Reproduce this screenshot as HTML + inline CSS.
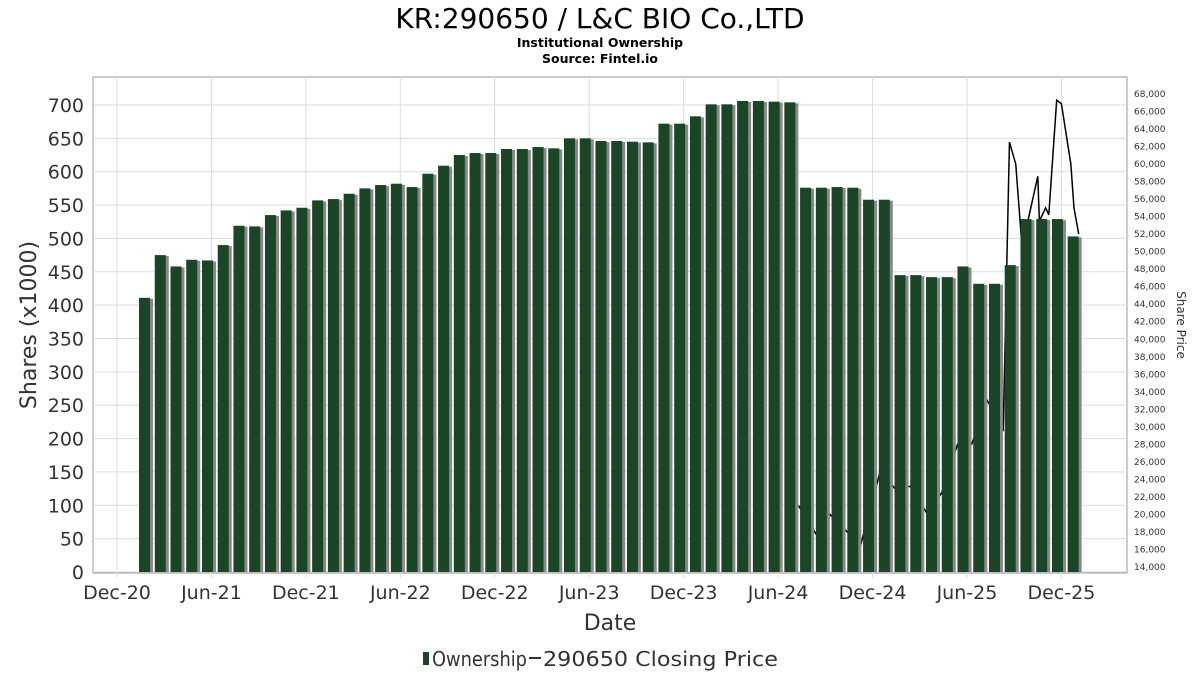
<!DOCTYPE html>
<html><head><meta charset="utf-8"><style>
body{margin:0;background:#fff;font-family:"DejaVu Sans","Liberation Sans",sans-serif}
svg{display:block}
</style></head><body>
<svg id="chart" width="1200" height="675">
<text x="600" y="28" text-anchor="middle" font-size="28" fill="#000">KR:290650 / L&amp;C BIO Co.,LTD</text>
<text x="600" y="47" text-anchor="middle" font-size="12.5" font-weight="bold">Institutional Ownership</text>
<text x="600" y="63" text-anchor="middle" font-size="12.5" font-weight="bold">Source: Fintel.io</text>
<rect x="93" y="77" width="1034" height="496" fill="none" stroke="#999"/>
<g id="grid"></g><g id="line"></g><g id="bars"></g><g id="axes"></g>
<text x="610" y="630" text-anchor="middle" font-size="22" fill="#333">Date</text>
<text transform="translate(36,325) rotate(-90)" text-anchor="middle" font-size="22" fill="#333">Shares (x1000)</text>
<text transform="translate(1177,325) rotate(90)" text-anchor="middle" font-size="12" fill="#333">Share Price</text>
<g>
<rect x="423" y="652" width="6" height="13" fill="#1a4526"/>
<text x="432" y="666" font-size="20" textLength="95" lengthAdjust="spacingAndGlyphs" fill="#333">Ownership</text>
<line x1="529" y1="658" x2="541" y2="658" stroke="#333" stroke-width="2"/>
<text x="543" y="666" font-size="20.5" textLength="235" lengthAdjust="spacingAndGlyphs" fill="#333">290650 Closing Price</text>
</g>
</svg>
<script>
const ownership=[411,475,458,468,467,490,519,518,535,542,546,557,559,567,575,580,582,577,597,609,625,628,628,634,634,637,635,650,650,646,646,645,644,672,672,683,701,701,706,706,705,704,576,576,577,576,558,558,445,445,442,442,458,432,432,460,529,529,529,503];
const firstBarMonth=1.78;
const priceMonths=[43.3,44.5,45.3,46.4,47.2,48.5,49.4,50.4,51.5,52.4,53.4,54.3,55.3,56.3,56.7,57.1,57.5,58.5,58.6,59.0,59.2,59.7,60.0,60.6,60.8,61.1];
const prices=[21000,17500,20000,18000,16200,25000,23000,23200,20000,22500,28000,28000,33000,29500,62500,60000,50500,58600,53500,55000,54200,67300,66900,60000,55000,52000];
const xTicks=["Dec-20","Jun-21","Dec-21","Jun-22","Dec-22","Jun-23","Dec-23","Jun-24","Dec-24","Jun-25","Dec-25"];
const yTicks=[0,50,100,150,200,250,300,350,400,450,500,550,600,650,700];
const y2Ticks=[14000,16000,18000,20000,22000,24000,26000,28000,30000,32000,34000,36000,38000,40000,42000,44000,46000,48000,50000,52000,54000,56000,58000,60000,62000,64000,66000,68000];
const NS="http://www.w3.org/2000/svg";
const xs=m=>117+m*15.74;
const ys=v=>572-v*(467/700);
const yp=p=>567-(p-14000)*(473/54000);
function mk(t,a,parent){const e=document.createElementNS(NS,t);for(const k in a)e.setAttribute(k,a[k]);document.getElementById(parent).appendChild(e);return e;}
yTicks.forEach(v=>{
 const l=mk('line',{x1:93,x2:1127,y1:ys(v),y2:ys(v),stroke:'#ddd'},'grid');
 
 
 const t=mk('text',{x:84,y:ys(v)+7,'text-anchor':'end','font-size':19,fill:'#333'},'axes');t.textContent=v;
 
 
});
xTicks.forEach((s,i)=>{
 const x=xs(i*6);
 const l=mk('line',{x1:x,x2:x,y1:77,y2:578,stroke:'#ddd'},'grid');
 
 
 const t=mk('text',{x:x,y:599,'text-anchor':'middle','font-size':19,fill:'#333'},'axes');t.textContent=s;
 
 
});
y2Ticks.forEach(p=>{
 const t=mk('text',{x:1134,y:yp(p)+3,'font-size':9,fill:'#333'},'axes');t.textContent=p.toLocaleString('en-US');
 
 
});
const pl=mk('polyline',{points:priceMonths.map((m,i)=>xs(m)+','+yp(prices[i])).join(' '),fill:'none',stroke:'#000','stroke-width':1.5},'line');


ownership.forEach((v,i)=>{
 const cx=xs(firstBarMonth+i);
 const s=mk('rect',{x:cx-4,y:ys(v)+1,width:12,height:572-ys(v)-1,fill:'#888'},'bars');
 
 
 const r=mk('rect',{x:cx-6,y:ys(v),width:11,height:572-ys(v),fill:'#1a4526'},'bars');
 
 
});
</script>
</body></html>
